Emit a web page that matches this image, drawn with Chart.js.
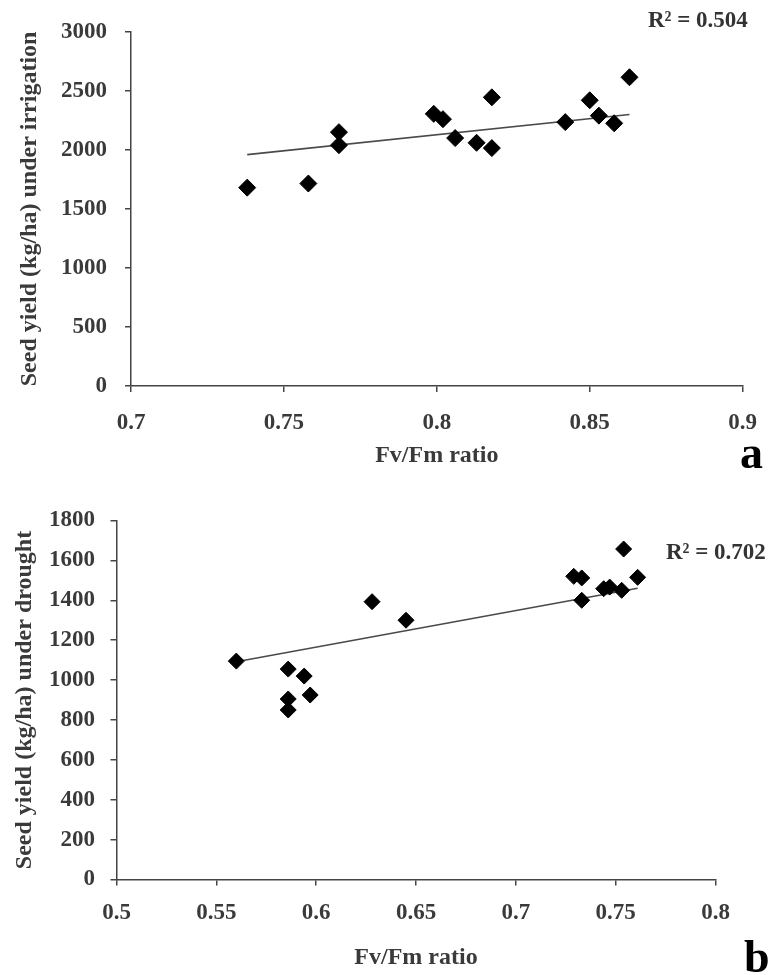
<!DOCTYPE html>
<html>
<head>
<meta charset="utf-8">
<script src="https://cdn.jsdelivr.net/npm/chart.js@4"></script>
<style>
  body { margin: 0; background: #fff; }
  #wrap { position: relative; width: 774px; height: 975px; overflow: hidden; }
  canvas { position: absolute; left: 0; }
  .lbl { position: absolute; font-family: 'Liberation Serif', serif; font-weight: bold; line-height: 1; white-space: nowrap; }
  .r2 { font-size: 23px; color: #333; }
  .panel { font-size: 46px; color: #000; }
</style>
</head>
<body>
<div id="wrap">
  <canvas id="chartA" width="774" height="490" style="top:0"></canvas>
  <canvas id="chartB" width="774" height="488" style="top:487px"></canvas>
  <div class="lbl r2" style="left:648px; top:8px">R² = 0.504</div>
  <div class="lbl r2" style="left:666px; top:540px">R² = 0.702</div>
  <div class="lbl panel" style="left:740px; top:430px">a</div>
  <div class="lbl panel" style="left:744px; top:934px">b</div>
</div>
<script>
// panel a: irrigation
const fvfmA = [0.738, 0.758, 0.768, 0.768, 0.799, 0.802, 0.806, 0.813, 0.818, 0.818, 0.842, 0.850, 0.853, 0.858, 0.863];
const yieldA = [1680, 1715, 2150, 2040, 2305, 2260, 2100, 2060, 2445, 2015, 2235, 2420, 2290, 2225, 2615];
const trendXA = [0.738, 0.863];
const trendYA = [1960, 2300];
const xTicksA = [0.7, 0.75, 0.8, 0.85, 0.9];
const yTicksA = [0, 500, 1000, 1500, 2000, 2500, 3000];

// panel b: drought
const fvfmB = [0.560, 0.586, 0.594, 0.597, 0.586, 0.586, 0.628, 0.645, 0.729, 0.733, 0.733, 0.744, 0.747, 0.753, 0.754, 0.761];
const yieldB = [1095, 1055, 1020, 925, 905, 850, 1393, 1300, 1520, 1512, 1400, 1458, 1466, 1450, 1657, 1515];
const trendXB = [0.560, 0.761];
const trendYB = [1092, 1460];
const xTicksB = [0.5, 0.55, 0.6, 0.65, 0.7, 0.75, 0.8];
const yTicksB = [0, 200, 400, 600, 800, 1000, 1200, 1400, 1600, 1800];

const axisColor = '#444';
const textColor = '#3a3a3a';
const tickFont = { family: 'Liberation Serif', size: 23, weight: 'bold' };
const titleFont = { family: 'Liberation Serif', size: 24, weight: 'bold' };

function pts(xs, ys) {
  return xs.map((x, i) => ({ x: x, y: ys[i] }));
}

function makeChart(id, cfg) {
  const ctx = document.getElementById(id).getContext('2d');
  return new Chart(ctx, {
    data: {
      datasets: [{
        type: 'scatter',
        data: pts(cfg.xs, cfg.ys),
        pointStyle: 'rectRot',
        pointRadius: cfg.radius,
        backgroundColor: '#000',
        borderColor: '#000',
        borderWidth: 1,
        order: 1
      }, {
        type: 'line',
        data: pts(cfg.tx, cfg.ty),
        borderColor: '#4a4a4a',
        borderWidth: 1.6,
        pointRadius: 0,
        fill: false,
        order: 2
      }]
    },
    options: {
      responsive: false,
      animation: false,
      devicePixelRatio: 1,
      layout: { padding: cfg.pad },
      plugins: { legend: { display: false }, tooltip: { enabled: false } },
      scales: {
        x: {
          type: 'linear',
          min: cfg.xTicks[0],
          max: cfg.xTicks[cfg.xTicks.length - 1],
          afterBuildTicks: s => { s.ticks = cfg.xTicks.map(v => ({ value: v })); },
          afterFit: s => { s.height = cfg.xHeight; },
          ticks: {
            font: tickFont, color: textColor, padding: cfg.xTickPad, maxRotation: 0,
            callback: v => String(Number(v.toFixed(2)))
          },
          grid: { drawOnChartArea: false, drawTicks: true, tickLength: 6, color: axisColor, lineWidth: 1.5 },
          border: { display: true, color: axisColor, width: 1.5 },
          title: { display: true, text: 'Fv/Fm ratio', font: titleFont, color: textColor,
                   padding: { top: 0, bottom: cfg.xTitlePad } }
        },
        y: {
          type: 'linear',
          min: cfg.yTicks[0],
          max: cfg.yTicks[cfg.yTicks.length - 1],
          afterBuildTicks: s => { s.ticks = cfg.yTicks.map(v => ({ value: v })); },
          afterFit: s => { s.width = cfg.yWidth; },
          ticks: { font: tickFont, color: textColor, padding: cfg.yTickPad, callback: v => String(v) },
          grid: { drawOnChartArea: false, drawTicks: true, tickLength: 6, color: axisColor, lineWidth: 1.5 },
          border: { display: true, color: axisColor, width: 1.5 },
          title: { display: true, text: cfg.yTitle, font: titleFont, color: textColor,
                   padding: { top: cfg.yTitlePad, bottom: 0 } }
        }
      }
    }
  });
}

makeChart('chartA', {
  xs: fvfmA, ys: yieldA, tx: trendXA, ty: trendYA,
  xTicks: xTicksA, yTicks: yTicksA,
  yTitle: 'Seed yield (kg/ha) under irrigation',
  radius: 8.5,
  pad: { top: 13, right: 20.5, bottom: 0, left: 0 },
  xHeight: 104, yWidth: 131,
  xTickPad: 17, yTickPad: 18, xTitlePad: 20, yTitlePad: 15
});

makeChart('chartB', {
  xs: fvfmB, ys: yieldB, tx: trendXB, ty: trendYB,
  xTicks: xTicksB, yTicks: yTicksB,
  yTitle: 'Seed yield (kg/ha) under drought',
  radius: 8,
  pad: { top: 33.5, right: 58.5, bottom: 0, left: 0 },
  xHeight: 95.5, yWidth: 116.5,
  xTickPad: 13.5, yTickPad: 15.5, xTitlePad: 3, yTitlePad: 10
});
</script>
</body>
</html>
